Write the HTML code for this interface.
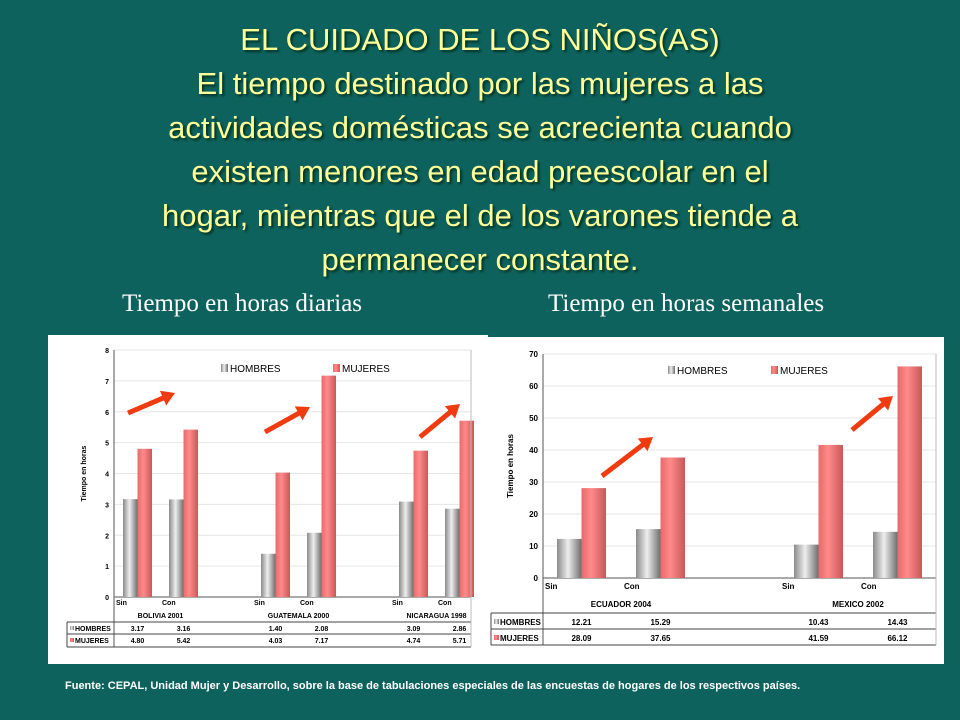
<!DOCTYPE html>
<html><head><meta charset="utf-8">
<style>
body{margin:0;width:960px;height:720px;background:#0e625d;overflow:hidden;font-family:"Liberation Sans",sans-serif;position:relative}
.t{position:absolute;left:0;width:960px;text-align:center;color:#ffff99;font-size:31px;text-shadow:2px 2px 2px #032;line-height:44px}
.sub{position:absolute;top:290px;font-family:"Liberation Serif",serif;font-size:25px;color:#fff}
.foot{position:absolute;left:65px;top:680px;color:#fff;font-size:11px;font-weight:bold}
svg{position:absolute;left:0;top:0}
</style></head><body>
<div class="t" style="top:18px">EL CUIDADO DE LOS NIÑOS(AS)<br>El tiempo destinado por las mujeres a las<br>actividades domésticas se acrecienta cuando<br>existen menores en edad preescolar en el<br>hogar, mientras que el de los varones tiende a<br>permanecer constante.</div>
<div class="sub" style="left:122px">Tiempo en horas diarias</div>
<div class="sub" style="left:548px">Tiempo en horas semanales</div>
<div class="foot">Fuente: CEPAL, Unidad Mujer y Desarrollo, sobre la base de tabulaciones especiales de las encuestas de hogares de los respectivos países.</div>
<svg id="s" width="960" height="720">
<defs>
<linearGradient id="gm" x1="0" x2="1"><stop offset="0" stop-color="#8a8a8a"/><stop offset=".45" stop-color="#eeeeee"/><stop offset="1" stop-color="#6e6e6e"/></linearGradient>
<linearGradient id="gw" x1="0" x2="1"><stop offset="0" stop-color="#e86a6a"/><stop offset=".4" stop-color="#ff8a8a"/><stop offset="1" stop-color="#c85858"/></linearGradient>
</defs>
<rect x="48" y="335" width="440" height="329" fill="#fff"/>
<rect x="487" y="337" width="457" height="327" fill="#fff"/>
</svg>
<script>
const leftGroups=["BOLIVIA 2001","GUATEMALA 2000","NICARAGUA 1998"];
const leftMen=[3.17,3.16,1.40,2.08,3.09,2.86];
const leftWomen=[4.80,5.42,4.03,7.17,4.74,5.71];
const leftMenLbl=["3.17","3.16","1.40","2.08","3.09","2.86"];
const leftWomenLbl=["4.80","5.42","4.03","7.17","4.74","5.71"];
const leftTicks=[0,1,2,3,4,5,6,7,8];
const rightGroups=["ECUADOR 2004","MEXICO 2002"];
const rightMen=[12.21,15.29,10.43,14.43];
const rightWomen=[28.09,37.65,41.59,66.12];
const rightMenLbl=["12.21","15.29","10.43","14.43"];
const rightWomenLbl=["28.09","37.65","41.59","66.12"];
const rightTicks=[0,10,20,30,40,50,60,70];
const subLbl=["Sin","Con"];
const s=document.getElementById('s');
function el(t,a,txt){const e=document.createElementNS('http://www.w3.org/2000/svg',t);for(const k in a)e.setAttribute(k,a[k]);if(txt!==undefined)e.textContent=txt;s.appendChild(e);return e;}
function chart(c){
 const y=v=>c.y0-(v/c.max)*(c.y0-c.yTop);
 const slot=i=>c.ax+c.off+(i+Math.floor(i/2))*c.sp;
 c.ticks.forEach(t=>{
  const g=el('line',{x1:c.ax,x2:c.right,y1:y(t),y2:y(t),stroke:'#e6e6e6','stroke-width':1});
  
  const tl=el('text',{x:c.ax-5,y:y(t)+3,'text-anchor':'end','font-size':c.fs,'font-weight':'bold',fill:'#000'},t);
  
 });
 const ax=el('line',{x1:c.ax,x2:c.ax,y1:c.yTop,y2:c.tBot,stroke:'#555'});
 
 const bx=el('line',{x1:c.ax,x2:c.right,y1:c.y0,y2:c.y0,stroke:'#555'});
 
 const yt=el('text',{transform:`translate(${c.ytx},${(c.yTop+c.y0)/2}) rotate(-90)`,'text-anchor':'middle','font-size':c.fs,'font-weight':'bold'},'Tiempo en horas');
 
 c.men.forEach((v,i)=>{
  const x=slot(i);
  const b=el('rect',{x:x,y:y(v),width:c.bw,height:c.y0-y(v),fill:'url(#gm)'});
  
  const w=el('rect',{x:x+c.bw,y:y(c.women[i]),width:c.bw,height:c.y0-y(c.women[i]),fill:'url(#gw)'});
  
  const sl=el('text',{x:c.ax+2+(i+Math.floor(i/2))*c.sp,y:c.subY,'font-size':c.fs,'font-weight':'bold'},subLbl[i%2]);
  
  const m1=el('text',{x:x+c.bw,y:c.r1,'text-anchor':'middle','font-size':c.fs,'font-weight':'bold'},c.menL[i]);
  
  const m2=el('text',{x:x+c.bw,y:c.r2,'text-anchor':'middle','font-size':c.fs,'font-weight':'bold'},c.womenL[i]);
  
 });
 c.groups.forEach((g,k)=>{
  const gx=(slot(2*k)+slot(2*k+1)+2*c.bw)/2;
  const gt=el('text',{x:gx,y:c.grpY,'text-anchor':'middle','font-size':c.fs,'font-weight':'bold'},g);
  
 });
 [c.tTop,c.tMid,c.tBot].forEach(yy=>{const l=el('line',{x1:c.tl,x2:c.right,y1:yy,y2:yy,stroke:'#444'});});
 const lv=el('line',{x1:c.tl,x2:c.tl,y1:c.tTop,y2:c.tBot,stroke:'#444'});
 const rv=el('line',{x1:c.right,x2:c.right,y1:c.yTop,y2:c.tBot,stroke:'#bbb'});
 [['HOMBRES','url(#gm)',c.r1],['MUJERES','url(#gw)',c.r2]].forEach(([n,f,yy])=>{
  const r=el('rect',{x:c.tl+3,y:yy-c.fs+2,width:c.fs-3,height:c.fs-3,fill:f});
  const t=el('text',{x:c.tl+c.fs+1,y:yy,'font-size':c.fs,'font-weight':'bold'},n);
 });
 [['HOMBRES','url(#gm)',c.lgx[0]],['MUJERES','url(#gw)',c.lgx[1]]].forEach(([n,f,xx])=>{
  const r=el('rect',{x:xx,y:c.lgy-8,width:7,height:8,fill:f});
  const t=el('text',{x:xx+9,y:c.lgy,'font-size':10},n);
 });
 c.arrows.forEach(a=>{
  const [x1,y1,x2,y2]=a;const ang=Math.atan2(y2-y1,x2-x1);const L=Math.hypot(x2-x1,y2-y1);
  const g=el('path',{d:`M0,-2.5 L${L-13},-2.5 L${L-13},-8 L${L},0 L${L-13},8 L${L-13},2.5 L0,2.5Z`,fill:'#f03a10',transform:`translate(${x1},${y1}) rotate(${ang*180/Math.PI})`});
  
 });
}
chart({ax:114,right:471,y0:597,yTop:350,max:8,off:9,sp:46,bw:14.5,ticks:leftTicks,men:leftMen,women:leftWomen,menL:leftMenLbl,womenL:leftWomenLbl,groups:leftGroups,fs:7,ytx:86,subY:605,grpY:618,tl:67,tTop:622,tMid:634,tBot:647,r1:631,r2:643,lgx:[221,333],lgy:372,arrows:[[128,413,175,393],[265,432,310,407],[420,437,460,404]]});
chart({ax:543,right:936,y0:578,yTop:354,max:70,off:14,sp:79,bw:24.5,ticks:rightTicks,men:rightMen,women:rightWomen,menL:rightMenLbl,womenL:rightWomenLbl,groups:rightGroups,fs:8,ytx:513,subY:589,grpY:607,tl:491,tTop:613,tMid:629,tBot:645,r1:625,r2:641,lgx:[668,771],lgy:374,arrows:[[602,476,653,437],[852,430,893,396]]});
</script>
</body></html>
